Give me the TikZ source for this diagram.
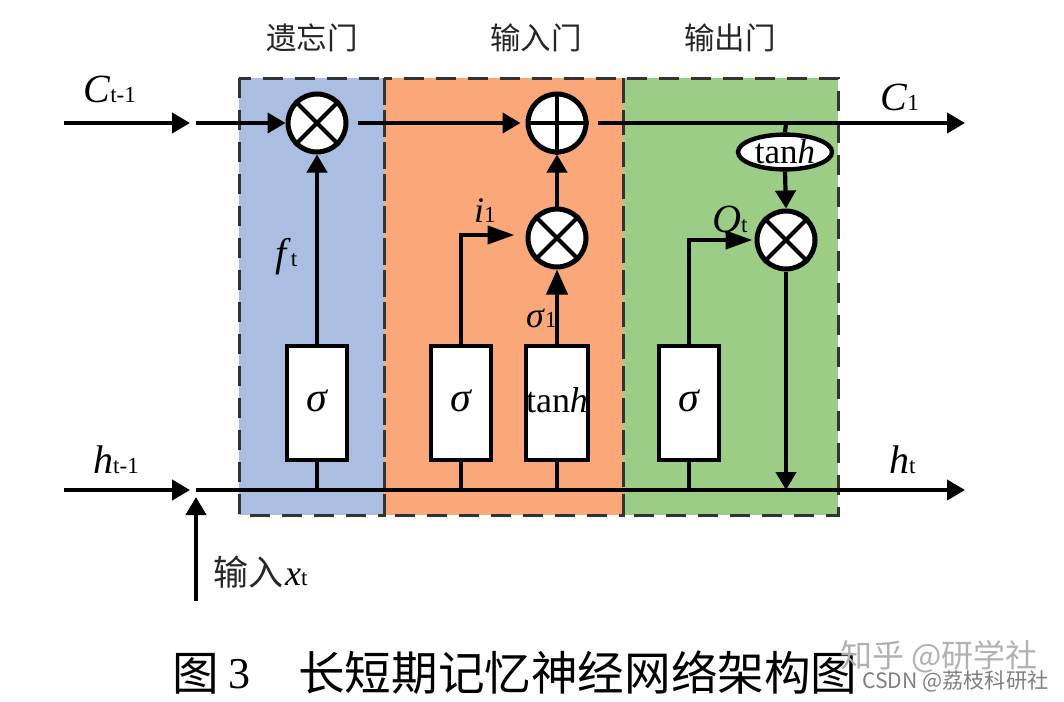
\documentclass[tikz,border=0pt]{standalone}
\usepackage{fontspec}
\setmainfont{Liberation Serif}
\newfontfamily\cjk{Noto Sans CJK SC}
\usetikzlibrary{arrows.meta,shapes.geometric}
\tikzset{
  x=1pt,y=-1pt,
  panel/.style={draw=black!80,line width=3pt,dash pattern=on 20pt off 12pt},
  op/.style={circle,draw=black,line width=5pt,fill=white,minimum size=58pt,inner sep=0pt},
  xline/.style={line width=4pt},
  boxn/.style={draw=black,line width=4.6pt,fill=white,minimum width=60pt,minimum height=114pt,inner sep=0pt,font=\fontsize{42}{42}\selectfont\itshape},
  cline/.style={draw=black,line width=4.2pt},
  arr/.style={cline,-{Triangle[length=18pt,width=20pt]}},
  arrlong/.style={cline,-{Triangle[length=27pt,width=18pt]}},
  arrmid/.style={cline,-{Triangle[length=25pt,width=21pt]}},
  lab/.style={font=\fontsize{40}{40}\selectfont,inner sep=0pt,anchor=base west},
  labs/.style={font=\fontsize{36}{36}\selectfont,inner sep=0pt,anchor=base west},
  cn/.style={font=\cjk\fontsize{30.5}{30.5}\selectfont,inner sep=0pt,text=black!85},
  wm/.style={font=\cjk\fontsize{32}{32}\selectfont,inner sep=0pt,text=black!30},
  wmb/.style={font=\cjk\fontsize{21.2}{21.2}\selectfont,inner sep=0pt,text=black!50},
  ttl/.style={font=\cjk\fontsize{46.6}{46.6}\selectfont,inner sep=0pt,anchor=base west},
}
\newcommand{\sm}[1]{{\fontsize{23}{23}\selectfont\upshape #1}}
\begin{document}
\begin{tikzpicture}
\useasboundingbox (0,0) rectangle (1064,701);
\fill[white] (0,0) rectangle (1064,701);
\fill[fill={rgb,255:red,170;green,190;blue,225}] (239,78) rectangle (384,515);
\fill[fill={rgb,255:red,250;green,168;blue,122}] (384,78) rectangle (623,515);
\fill[fill={rgb,255:red,155;green,205;blue,135}] (623,78) rectangle (838,515);
\draw[panel] (239,78) rectangle (384,515);
\draw[panel] (384,78) rectangle (623,515);
\draw[panel] (623,78) rectangle (838,515);
% nodes
\node[op] (o1) at (317,123) {};
\node[op] (o2) at (557,123) {};
\node[op] (o3) at (557,238) {};
\node[op] (o4) at (786,240) {};
\node[boxn] (b1) at (317,403) {\raisebox{4pt}{σ}};
\node[boxn] (b2) at (461,403) {\raisebox{4pt}{σ}};
\node[boxn,font=\fontsize{36}{36}\selectfont] (b3) at (557,403) {\raisebox{5pt}{\upshape tan\itshape h}};
\node[boxn] (b4) at (689,403) {\raisebox{4pt}{σ}};
\node[ellipse,draw=black,line width=4.4pt,fill=white,minimum width=94pt,minimum height=28pt,inner sep=0pt,font=\fontsize{35}{35}\selectfont] (t) at (785,152) {tan\textit{h}};
% free ends
\coordinate (c0) at (64,123);
\coordinate (c1) at (190,123);
\coordinate (c2) at (196,123);
\coordinate (c3) at (358,123);
\coordinate (c4) at (965,123);
\coordinate (c5) at (598,123);
\coordinate (h0) at (64,490);
\coordinate (h1) at (190,490);
\coordinate (h2) at (196,490);
\coordinate (h3) at (965,490);
\coordinate (x0) at (196,601);
\coordinate (x1) at (196,497);
\coordinate (j4) at (786,123);
\coordinate (j5) at (786,490);
\coordinate (s1) at (317,490);
\coordinate (s2) at (461,490);
\coordinate (s3) at (557,490);
\coordinate (s4) at (689,490);
% connectors
\draw[arr] (c0)--(c1);
\draw[arr] (c2)--(o1.west);
\draw[arr,shorten >=5pt] (c3)--(o2.west);
\draw[arr] (c5)--(c4);
\draw[arr] (h0)--(h1);
\draw[arr] (h2)--(h3);
\draw[arr] (x0)--(x1);
\draw[arr] (b1.north)--(o1.south);
\draw[arr] (o3.north)--(o2.south);
\draw[arrmid] (b3.north)--(o3.south);
\draw[arrlong] (b2.north)|-([xshift=-11pt,yshift=3pt]o3.west);
\draw[arrlong] (b4.north)|-([xshift=-2pt]o4.west);
\draw[arr] (t.south)--(o4.north);
\draw[arr] (o4.south)--(j5);
\draw[cline] (j4)--(t.north);
\draw[cline] (b1.south)--(s1);
\draw[cline] (b2.south)--(s2);
\draw[cline] (b3.south)--(s3);
\draw[cline] (b4.south)--(s4);
% op glyphs
\draw[xline] (o1.north west)--(o1.south east) (o1.north east)--(o1.south west);
\draw[xline] (o3.north west)--(o3.south east) (o3.north east)--(o3.south west);
\draw[xline] (o4.north west)--(o4.south east) (o4.north east)--(o4.south west);
\draw[xline] (o2.north)--(o2.south) (o2.west)--(o2.east);
% labels
\node[cn] (g1) at (312,38) {遗忘门};
\node[cn] (g2) at (536,38) {输入门};
\node[cn] (g3) at (730,38) {输出门};
\node[lab] (l1) at (83,102) {\textit{C}\sm{t-1}};
\node[lab] (l2) at (880,110) {\textit{C}\sm{1}};
\node[lab] (l3) at (93,473) {\textit{h}\sm{t-1}};
\node[lab] (l4) at (889,473) {\textit{h}\sm{t}};
\node[lab] (l5) at (275,266) {\textit{f}\sm{t}};
\node[labs] (l6) at (474,222) {\textit{i}\sm{1}};
\node[labs] (l7) at (526,327) {\textit{σ}\sm{1}};
\node[lab] (l8) at (712,232) {\textit{Q}\sm{t}};
\node[cn,anchor=base west,font=\cjk\fontsize{35}{35}\selectfont] (l9) at (213,585) {输入};
\node[labs] (l10) at (285,585) {\textit{x}\sm{t}};
\node[ttl] (ti) at (172,690) {图};
\node[font=\fontsize{44}{44}\selectfont,inner sep=0pt,anchor=base west] (tn) at (228,688) {3};
\node[ttl] (tt) at (298,690) {长短期记忆神经网络架构图};
\node[wm,anchor=base west] (w1) at (840,667) {知乎 @研学社};
\node[wmb,anchor=base west] (w2) at (862,688) {CSDN @荔枝科研社};
\end{tikzpicture}
\end{document}
